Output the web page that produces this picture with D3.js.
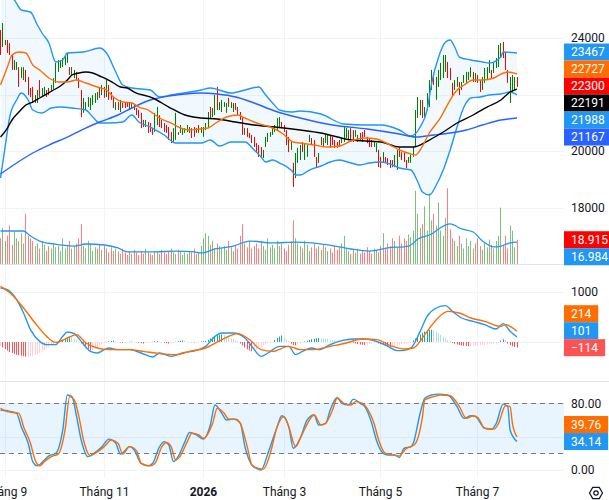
<!DOCTYPE html>
<html>
<head>
<meta charset="utf-8">
<script src="https://cdn.jsdelivr.net/npm/d3@7"></script>
<style>
  body { margin: 0; background: #fff; }
  svg { display: block; font-family: Roboto, "Noto Sans", sans-serif; }
</style>
</head>
<body>
<div id="chart"></div>
<script>
// ---- data (bar index 0..224) ----
var monthLabels = ['Tháng 9', 'Tháng 11', '2026', 'Tháng 3', 'Tháng 5', 'Tháng 7'];
var monthBars = [2, 45, 88, 123, 165, 207];

var high = [
  24280,24530,23930,23930,23820,23400,23220,23150,22970,22970,
  22970,22870,22620,22230,22270,21980,22160,22510,22230,22270,
  22160,22230,22340,22580,23120,23220,23220,23290,23360,23470,
  22970,22970,22870,22800,22580,22160,21880,21730,21910,21880,
  21980,22050,22090,22230,22340,22270,22510,22340,22090,21910,
  21730,21730,21810,21700,21730,21700,21730,21700,21630,21520,
  21450,21350,21100,21100,21030,20990,20810,21350,21560,21270,
  21100,20990,20920,20850,20670,20810,21350,20670,20920,20810,
  20810,20920,20850,20810,20850,20810,20920,20850,20850,20990,
  21380,21560,21520,21980,22270,21730,21810,21730,21700,21880,
  21730,21700,21700,21560,21380,21170,20810,20810,20640,20570,
  20500,20280,20210,20140,20040,20500,20640,20670,20810,20920,
  21170,21200,21030,20920,20740,20500,20320,19580,19930,20110,
  20210,20320,20280,20210,20570,20460,20390,19790,19930,20500,
  20460,20570,20570,20570,20500,20390,20320,20390,20460,20850,
  20810,20740,20810,20740,20740,20570,20640,20670,20740,20500,
  20460,20390,20320,20280,20040,19790,19960,19790,19750,19680,
  19680,19860,20040,20110,19960,19930,19680,19790,19860,20140,
  21450,21910,21810,21810,21560,22050,22510,22870,22690,22620,
  22870,23120,23400,23400,23150,22940,22410,22510,22620,22440,
  22440,22690,22800,22800,22970,22800,22760,22690,22510,22620,
  22940,22970,23220,22870,23120,23290,23750,23820,23860,23500,
  22870,22620,22690,22620,22620
];
var low = [
  23400,23680,23750,23470,23400,22870,22870,22870,22270,22580,
  22510,22440,21980,21910,21700,21700,21700,21910,21910,21980,
  21910,21980,22090,22200,22410,22800,22940,22970,23040,23120,
  22690,22690,22580,22510,22230,21200,21350,21450,21560,21450,
  21630,21700,21810,21880,21980,21880,21910,21810,21810,21520,
  21450,21450,21380,21520,21520,21560,21450,21520,21450,21270,
  21170,20810,20850,20850,20640,20670,20570,20670,20920,20850,
  20810,20670,20640,20390,20280,20280,20390,20570,20640,20570,
  20640,20670,20640,20460,20500,20640,20640,20640,20500,20740,
  20810,21170,21200,21270,21450,21450,21380,21560,21350,21560,
  21520,21380,21450,21270,21100,20570,20570,20500,20460,20280,
  20140,19930,19790,19790,19750,20140,20320,20500,20570,20670,
  20740,20850,20850,20670,20210,19960,20040,18730,19040,19580,
  19680,19960,19680,19790,20320,20210,19790,19400,19580,20210,
  20140,20280,20210,20110,20210,20110,20110,20140,20280,20320,
  20460,20390,20390,20320,20500,20320,20390,20320,20500,20280,
  20140,20140,20140,19960,19430,19400,19580,19580,19500,19400,
  19430,19430,19330,19790,19680,19610,19400,19580,19580,19790,
  20140,21170,21270,21170,21200,21450,21560,22160,22340,21810,
  22270,22510,22580,22800,22580,22510,21910,22160,22270,21980,
  22160,22410,22410,22510,22620,22440,22440,22410,22090,22160,
  22410,22510,22760,22580,22760,22940,22970,23330,23290,22870,
  22410,21700,22090,22160,22270
];
// 1 = rising bar (green), 0 = falling bar (red)
var up = [
  0,1,1,0,0,0,1,1,0,1, 1,0,0,0,0,1,1,0,1,1, 0,0,1,1,1,1,1,1,1,1,
  0,1,1,0,0,0,1,1,1,1, 1,1,1,0,1,0,1,0,0,0, 1,0,1,0,0,0,0,1,0,0,
  0,0,0,1,0,0,0,1,1,0, 0,0,0,0,0,1,1,0,1,1, 1,1,1,0,0,1,0,1,1,1,
  1,0,1,1,0,1,1,1,1,0, 1,1,0,0,0,0,1,0,0,0, 0,0,0,0,1,1,1,1,1,1,
  1,1,0,0,0,0,1,0,1,1, 1,0,1,1,1,0,0,0,1,1, 0,1,1,0,0,0,0,0,1,1,
  1,1,0,0,1,1,0,0,0,0, 0,0,1,1,0,0,1,0,0,0, 0,1,1,0,0,0,0,1,1,1,
  1,1,1,0,1,1,1,1,0,1, 1,1,1,1,0,0,0,1,1,0, 1,1,1,1,1,0,1,0,0,1,
  1,1,1,0,1,1,1,1,0,0, 0,1,1,1,0
];
var volume = [
  20,28,18,22,30,15,25,20,18,24,16,39,22,
  20,18,14,16,12,18,15,10,14,12,16,13,
  14,10,20,12,15,18,12,14,16,20,31,
  14,12,18,16,10,13,12,15,11,14,12,9,13,10,12,
  10,8,12,9,7,10,8,11,9,7,10,8,12,9,8,7,10,9,8,11,
  9,8,10,12,9,8,11,10,7,9,8,10,9,12,8,9,
  14,20,24,22,15,18,12,16,14,
  12,14,11,18,13,10,15,12,22,31,16,13,18,12,14,
  16,12,18,14,11,20,13,15,12,18,14,16,12,10,15,18,
  34,
  20,16,14,12,18,15,10,13,16,12,14,11,15,13,10,12,9,14,11,13,16,
  22,12,10,8,11,9,12,8,10,9,13,10,8,12,11,9,14,
  24,12,16,14,20,18,13,22,16,20,18,23,21,26,
  57,39,28,31,45,26,55,34,39,30,48,26,22,36,59,27,20,
  18,14,22,16,12,20,14,18,12,16,20,14,11,17,13,19,15,12,18,22,
  44,15,22,12,30,26,13,18.915
];
var volMaBars = [0,5,10,13,17,23,32,37,45,51,55,67,76,84,87,93,101,108,118,128,135,145,152,160,168,177,181,187,190,195,200,205,209,214,217,221,224];
var volMa = [25.7,25.7,25.7,21.8,17.9,15.6,14.0,15.6,14.8,12.5,9.4,9.4,10.1,9.4,8.6,11.7,14.0,17.9,16.4,17.1,16.4,14.0,11.7,10.1,12.5,14.0,19.5,23.4,27.3,31.2,27.3,24.9,17.9,13.3,14.0,16.4,16.984];

var ma20Bars = [0,3,5,8,11,14,17,21,25,29,33,37,42,46,49,53,57,60,64,66,69,74,78,82,86,90,94,98,103,105,110,114,118,122,127,130,136,142,147,152,158,163,169,173,178,180,182,186,191,195,198,201,205,209,214,217,220,224];
var ma20 = [22336,22973,23398,23504,23469,23044,22867,22584,22442,22442,22513,22407,22265,22159,21911,21734,21699,21557,21451,21345,21168,20991,20814,20743,20778,20814,21026,21203,21274,21203,21026,20920,20814,20637,20318,20283,20212,20141,20177,20354,20460,20425,20212,20035,19893,19858,20035,20637,21203,21805,22159,22336,22513,22513,22584,22725,22796,22727];

var ma50Bars = [0,3,5,8,11,14,17,20,23,26,29,31,34,37,40,43,46,49,52,55,58,66,73,80,87,94,102,110,119,130,139,152,165,173,179,186,192,198,205,211,217,221,224];
var ma50 = [20495,20814,21097,21380,21628,21734,21876,22017,22159,22301,22513,22690,22761,22796,22761,22655,22548,22407,22265,22230,22088,21876,21557,21274,21168,21132,21026,20920,20849,20743,20637,20389,20318,20141,20141,20389,20672,20991,21274,21557,21805,22088,22191];

var ma200Bars = [0,7,14,21,29,36,43,51,57,65,73,80,87,94,102,110,119,130,144,159,173,180,188,195,202,209,217,224];
var ma200 = [19185,19575,19929,20212,20495,20778,21026,21274,21522,21805,21947,22017,22053,22017,21911,21699,21416,21168,20920,20778,20601,20495,20566,20637,20743,20920,21097,21167];

var bbUpBars = [0,3,6,9,13,16,18,21,24,27,29,36,43,46,50,53,57,65,69,74,87,91,100,106,112,115,118,121,126,130,139,149,159,165,173,178,182,185,187,190,193,195,197,199,204,209,212,217,218,224];
var bbUp = [25876,25522,25345,24991,24920,24460,24177,23823,23150,23221,23469,23504,23646,23469,22796,22336,22230,22159,21911,21982,22159,22230,22053,22159,22265,21982,21699,21451,21380,21416,21309,20955,20920,20920,20743,20531,20849,21451,22407,23327,23858,23929,23681,23327,23221,23150,23115,23327,23504,23467];
var bbLowBars = [0,2,4,7,9,12,14,18,22,26,31,37,40,43,47,53,57,60,65,71,76,87,91,95,100,106,110,113,115,118,121,126,128,130,134,139,143,147,152,156,160,165,169,173,178,181,183,186,189,192,195,198,201,204,208,212,217,221,224];
var bbLow = [19044,20141,21203,21805,22053,21805,21451,21345,21522,21557,21522,21451,21203,20991,20991,21026,21274,21026,20849,20566,20283,20283,20389,20177,20318,20318,20035,19787,19610,19681,19575,19327,19150,19150,19327,19469,19610,19681,19575,19504,19575,19610,19539,19398,19327,18902,18548,18442,18796,19327,20035,20849,21557,21876,21911,21982,22017,22088,21988];

var macdBars = [0,3,7,10,13,17,20,24,27,29,32,35,39,42,45,47,51,56,61,66,69,74,79,86,89,93,96,101,106,109,113,116,121,125,128,131,135,138,143,148,153,158,163,168,172,175,178,182,185,189,193,196,200,205,210,215,218,221,224];
var macd = [1080,1047,847,580,247,13,-53,-53,113,200,167,13,-187,-220,-153,-120,-153,-153,-220,-300,-220,-287,-220,-153,-87,113,180,180,80,-87,-287,-220,-87,-87,-253,-187,-120,-153,-53,27,60,60,13,-87,-173,-167,-120,213,513,680,727,613,480,413,347,260,367,213,101];
var signalBars = [0,5,10,15,20,24,29,33,37,42,47,56,62,69,76,82,89,96,103,108,113,118,125,130,136,143,150,157,163,170,175,179,184,189,194,199,204,210,217,219,224];
var signal = [1113,947,680,380,113,-7,80,147,-20,-120,-153,-153,-187,-233,-253,-187,-120,47,167,47,-153,-187,-87,-153,-153,-87,-20,60,47,-87,-140,-120,147,447,613,580,480,413,313,347,214];
var hist = [
  -80,-110,-140,-170,-200,-220,-240,-255,-265,-275,-285,-290,-290,
  -285,-275,-260,-240,-215,-190,-160,-130,-100,-70,-45,-25,-10,
  20,45,70,95,110,100, 70,40,15,
  -30,-70,-110,-145,-170,-160, -130,-100,-70,-45,-25,-10,
  10,20,25,15,5,-10,-20,-15,-5,5,10,5,-5,-15,-25,-30,-20,-10,-5,5,15,20,10,-5,-15,-25,-30,-20,-10,5,15,25,30,20,10,5,-5,-10,-5,5,10,15,
  25,45,70,95,115,135,145,150, 135,115,95,75,55,35,15,
  -30,-70,-110,-145,-170,-185,-180, -155,-130,-100,-75,-50,-30,-15,-5,
  40,80,110,130, 90,50,20, -30,-55,-65,-50,-35,-15,
  10,25,40,55,65,75,80,75,70,60,55,45,40,30,25,20,15,10,5,5,
  -10,-20,-30,-40,-50,-55,-60,-55,-45,-35,-25,-20,-30,-45,-60,-75,-90,-100,-95,-85,-75,-60,-50,-40,-30,-20,-10,
  30,70,110,150,185,210,230,240,245,235, 210,175,140,105,70,40,15,
  -20,-35,-50,-60,-70,-75,-80,-85,-85,-80,-75,-70,-65,-60,-55,-50,-45,-40,-35,-30,-20,
  30,55,40, -30,-60,-85,-100,-114
];

var kBars = [0,3,7,9,12,14,16,19,21,24,27,29,31,33,35,38,40,44,47,50,52,56,58,61,64,66,69,71,73,75,77,80,82,85,88,91,93,96,98,101,104,106,109,111,113,116,120,122,125,127,130,133,136,138,141,143,146,148,151,153,156,158,161,163,166,168,171,173,175,178,179,182,184,187,190,194,198,201,204,206,210,213,215,218,220,221,224];
var stochK = [72,71,68,52,32,10,5,12,17,20,48,90,88,64,36,16,19,28,37,32,19,28,24,8,5,8,28,34,30,10,16,34,45,42,37,54,78,68,60,61,56,28,6,2,0,20,52,65,52,26,38,60,66,54,56,72,87,80,78,85,80,76,56,36,20,18,18,15,26,28,32,68,86,90,91,90,76,62,65,64,50,49,56,79,76,48,34.14];
var dBars = [0,3,8,10,13,15,17,19,22,25,28,30,32,34,36,39,41,45,48,51,53,56,59,61,65,67,70,72,74,76,78,81,83,86,88,92,94,97,99,102,104,107,109,112,114,117,120,123,125,128,130,134,136,139,141,144,146,149,152,154,157,159,162,164,167,169,172,173,176,178,180,183,184,188,191,195,199,202,205,207,210,214,216,219,221,222,224];
var stochD = [74,70,68,52,32,12,5,10,16,19,48,88,84,64,36,17,20,28,36,32,19,28,23,8,5,8,28,33,28,12,17,34,44,42,38,56,74,68,61,61,56,28,6,2,1,20,52,64,52,28,38,60,66,54,56,72,86,80,78,82,80,74,56,36,20,19,17,17,26,28,32,64,84,88,90,89,76,62,65,63,50,49,56,77,76,56,39.76];

// grid levels; the labelled ones are those not hidden behind value tags
var priceTicks = [18000, 20000, 22000, 24000];
var priceLabels = [18000, 20000, 24000];
var macdTicks = [0, 1000];
var macdLabels = [1000];
var stochTicks = [0, 40, 80];
var stochLabels = [0, 80];

// ---- layout ----
var W = 609, H = 500, plotW = 564;
var svg = d3.select('#chart').append('svg').attr('width', W).attr('height', H);

var x = d3.scaleLinear().domain([0, 224]).range([0.5, 517]);
var yP = d3.scaleLinear().domain([20000, 24000]).range([151, 38]);
var yV = d3.scaleLinear().domain([0, 60]).range([264, 187]);
var yM = d3.scaleLinear().domain([0, 1000]).range([342, 292]);
var yS = d3.scaleLinear().domain([0, 80]).range([470, 403.3]);

function bx(j) { return Math.floor(x(j)) + 0.5; }
function pairs(b, v) { return b.map(function(j, k) { return [j, v[k]]; }); }

var defs = svg.append('defs');
function clip(id, y0, h) {
  defs.append('clipPath').attr('id', id).append('rect')
    .attr('x', 0).attr('y', y0).attr('width', plotW).attr('height', h);
}
clip('cPrice', 0, 264);
clip('cMacd', 265, 116);
clip('cStoch', 382, 96);

// grid
var grid = svg.append('g').attr('stroke', '#f0f3fa').attr('stroke-width', 1);
monthBars.forEach(function(j) {
  grid.append('line').attr('x1', bx(j)).attr('x2', bx(j)).attr('y1', 0).attr('y2', 478);
});
function hGrid(vals, scale) {
  vals.forEach(function(v) {
    var y = Math.round(scale(v)) + 0.5;
    grid.append('line').attr('x1', 0).attr('x2', plotW).attr('y1', y).attr('y2', y);
  });
}
hGrid(priceTicks, yP);
hGrid(macdTicks, yM);
hGrid(stochTicks, yS);

// pane separators
[264.5, 381.5].forEach(function(y) {
  svg.append('line').attr('x1', 0).attr('x2', W).attr('y1', y).attr('y2', y)
    .attr('stroke', '#e0e3eb').attr('stroke-width', 1);
});

// ---- price pane ----
var gP = svg.append('g').attr('clip-path', 'url(#cPrice)');

// volume overlay
gP.append('g').selectAll('line').data(volume).join('line')
  .attr('x1', function(d, j) { return bx(j); })
  .attr('x2', function(d, j) { return bx(j); })
  .attr('y1', 264)
  .attr('y2', function(d) { return yV(d); })
  .attr('stroke', function(d, j) { return up[j] ? 'rgba(0,128,0,0.5)' : 'rgba(255,0,0,0.5)'; })
  .attr('stroke-width', 1);

gP.append('path').datum(pairs(volMaBars, volMa))
  .attr('fill', 'none').attr('stroke', '#2196f3').attr('stroke-width', 1.3)
  .attr('d', d3.line().x(function(d) { return x(d[0]); }).y(function(d) { return yV(d[1]); }).curve(d3.curveMonotoneX));

// bollinger fill: area under upper band, clipped to above lower band
var upPts = pairs(bbUpBars, bbUp), lowPts = pairs(bbLowBars, bbLow);
defs.append('clipPath').attr('id', 'cBand').append('path')
  .attr('d', d3.area().x(function(d) { return x(d[0]); }).y0(-100).y1(function(d) { return yP(d[1]); }).curve(d3.curveMonotoneX)(lowPts));
gP.append('g').attr('clip-path', 'url(#cBand)').append('path')
  .attr('fill', 'rgba(33,150,243,0.06)')
  .attr('d', d3.area().x(function(d) { return x(d[0]); }).y0(264).y1(function(d) { return yP(d[1]); }).curve(d3.curveMonotoneX)(upPts));

// candles
gP.append('g').selectAll('line').data(high).join('line')
  .attr('x1', function(d, j) { return bx(j); })
  .attr('x2', function(d, j) { return bx(j); })
  .attr('y1', function(d, j) { return yP(high[j]); })
  .attr('y2', function(d, j) { return yP(low[j]); })
  .attr('stroke', function(d, j) { return up[j] ? '#008000' : '#ff0000'; })
  .attr('stroke-width', 1);

var priceLine = d3.line().x(function(d) { return x(d[0]); }).y(function(d) { return yP(d[1]); }).curve(d3.curveMonotoneX);
[
  [upPts, '#2196f3'],
  [lowPts, '#2196f3'],
  [pairs(ma200Bars, ma200), '#2962ff'],
  [pairs(ma50Bars, ma50), '#000000'],
  [pairs(ma20Bars, ma20), '#ff6d00']
].forEach(function(s) {
  gP.append('path').datum(s[0]).attr('fill', 'none').attr('stroke', s[1])
    .attr('stroke-width', 1.4).attr('d', priceLine);
});

// ---- MACD pane ----
var gM = svg.append('g').attr('clip-path', 'url(#cMacd)');
gM.append('g').selectAll('line').data(hist).join('line')
  .attr('x1', function(d, j) { return bx(j); })
  .attr('x2', function(d, j) { return bx(j); })
  .attr('y1', yM(0))
  .attr('y2', function(d) { return yM(d); })
  .attr('stroke', function(d, j) {
    var p = j ? hist[j - 1] : d;
    if (d >= 0) return d >= p ? '#26a69a' : '#b2dfdb';
    return d < p ? '#ff5252' : '#ffcdd2';
  })
  .attr('stroke-width', 1);

var macdLine = d3.line().x(function(d) { return x(d[0]); }).y(function(d) { return yM(d[1]); }).curve(d3.curveMonotoneX);
gM.append('path').datum(pairs(macdBars, macd)).attr('fill', 'none').attr('stroke', '#2196f3').attr('stroke-width', 1.4).attr('d', macdLine);
gM.append('path').datum(pairs(signalBars, signal)).attr('fill', 'none').attr('stroke', '#ff6d00').attr('stroke-width', 1.4).attr('d', macdLine);

// ---- Stochastic pane ----
var gS = svg.append('g').attr('clip-path', 'url(#cStoch)');
gS.append('rect').attr('x', 0).attr('width', plotW)
  .attr('y', yS(80)).attr('height', yS(20) - yS(80))
  .attr('fill', 'rgba(33,150,243,0.1)');
[80, 20].forEach(function(v) {
  gS.append('line').attr('x1', 0).attr('x2', plotW)
    .attr('y1', Math.round(yS(v)) + 0.5).attr('y2', Math.round(yS(v)) + 0.5)
    .attr('stroke', '#787b86').attr('stroke-dasharray', '5,4').attr('stroke-width', 1);
});
var stochLine = d3.line().x(function(d) { return x(d[0]); }).y(function(d) { return yS(d[1]); }).curve(d3.curveMonotoneX);
gS.append('path').datum(pairs(kBars, stochK)).attr('fill', 'none').attr('stroke', '#2196f3').attr('stroke-width', 1.4).attr('d', stochLine);
gS.append('path').datum(pairs(dBars, stochD)).attr('fill', 'none').attr('stroke', '#ff6d00').attr('stroke-width', 1.4).attr('d', stochLine);

// ---- right scale ----
var axisG = svg.append('g').attr('font-size', 12).attr('fill', '#131722');
function tickText(vals, scale, fmt) {
  vals.forEach(function(v) {
    axisG.append('text').attr('x', 571).attr('y', scale(v)).attr('dy', '0.35em').text(fmt(v));
  });
}
tickText(priceLabels, yP, d3.format('d'));
tickText(macdLabels, yM, d3.format('d'));
tickText(stochLabels, yS, d3.format('.2f'));

// value tags, stacked 17px apart around an anchor tag
function drawTags(list, anchor) {
  for (var k = anchor - 1; k >= 0; k--) list[k].y = Math.min(list[k].y, list[k + 1].y - 17);
  for (var k2 = anchor + 1; k2 < list.length; k2++) list[k2].y = Math.max(list[k2].y, list[k2 - 1].y + 17);
  list.forEach(function(t) {
    var g = svg.append('g');
    var r = g.append('rect').attr('x', 564).attr('y', t.y - 8.5).attr('height', 17).attr('fill', t.bg);
    var tx = g.append('text').attr('x', 571).attr('y', t.y).attr('dy', '0.35em')
      .attr('font-size', 12).attr('fill', '#ffffff').text(t.label);
    r.attr('width', t.full ? W - 564 : tx.node().getComputedTextLength() + 14);
  });
}
var lastClose = 22300;
drawTags([
  { label: '23467', y: yP(23467), bg: '#2196f3' },
  { label: '22727', y: yP(22727), bg: '#ff6d00' },
  { label: String(lastClose), y: yP(lastClose), bg: '#ff0000' },
  { label: '22191', y: yP(22191), bg: '#000000' },
  { label: '21988', y: yP(21988), bg: '#2196f3' },
  { label: '21167', y: yP(21167), bg: '#2962ff' }
], 2);
drawTags([
  { label: '18.915', y: yV(volume[224]), bg: '#ff0000', full: true },
  { label: '16.984', y: yV(volMa[volMa.length - 1]), bg: '#2196f3', full: true }
], 0);
drawTags([
  { label: '214', y: yM(214), bg: '#ff6d00' },
  { label: '101', y: yM(101), bg: '#2196f3' },
  { label: '\u2212114', y: yM(-114), bg: '#ff5252' }
], 2);
drawTags([
  { label: '39.76', y: yS(39.76), bg: '#ff6d00' },
  { label: '34.14', y: yS(34.14), bg: '#2196f3' }
], 1);

// ---- time axis ----
var tAxis = svg.append('g').attr('font-size', 12).attr('fill', '#131722').attr('text-anchor', 'middle');
monthBars.forEach(function(j, k) {
  tAxis.append('text').attr('x', bx(j)).attr('y', 492).attr('dy', '0.35em')
    .attr('font-weight', monthLabels[k] === '2026' ? 'bold' : 'normal')
    .text(monthLabels[k]);
});

// settings gear
var hex = d3.range(6).map(function(k) {
  var a = Math.PI / 3 * k;
  return [596 + 6.5 * Math.cos(a), 493 + 6.5 * Math.sin(a)];
});
svg.append('path').attr('d', 'M' + hex.join('L') + 'Z')
  .attr('fill', 'none').attr('stroke', '#131722').attr('stroke-width', 1.2).attr('stroke-linejoin', 'round');
svg.append('circle').attr('cx', 596).attr('cy', 493).attr('r', 2.2)
  .attr('fill', 'none').attr('stroke', '#131722').attr('stroke-width', 1.2);
</script>
</body>
</html>
